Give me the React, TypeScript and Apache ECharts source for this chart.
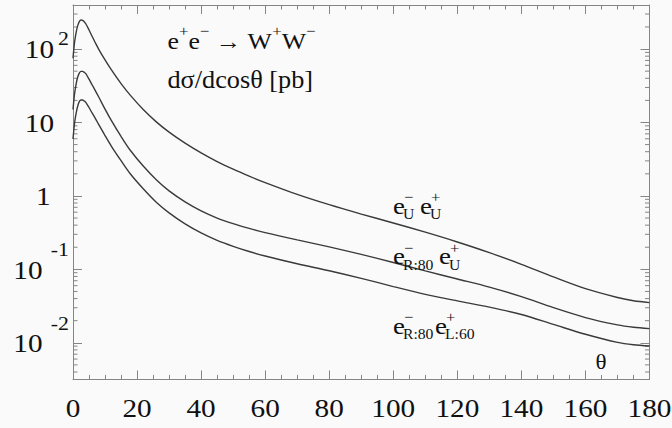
import React, { useEffect, useRef } from 'react';
import * as echarts from 'echarts';

// ---- data ----
const thetaDeg = [0, 0.5, 1, 1.5, 2, 2.5, 3, 3.5, 4, 5, 6, 7, 8, 10, 12, 15, 18, 22, 26, 30, 35, 40, 45, 50, 55, 60, 70, 80, 90, 100, 110, 120, 130, 140, 150, 160, 170, 175, 180];
const sigmaUU = [75, 125, 170, 210, 238, 249, 246, 236, 221, 182, 148, 121, 100, 71.1, 52.0, 33.9, 23.2, 14.9, 10.2, 7.4, 5.24, 3.86, 2.94, 2.31, 1.86, 1.52, 1.05, 0.76, 0.566, 0.428, 0.321, 0.236, 0.169, 0.117, 0.0789, 0.0546, 0.0414, 0.0373, 0.0352];
const sigmaR80U = [15, 24.9, 33.9, 41.9, 47.5, 49.7, 49.6, 48.2, 46.2, 38.9, 32.4, 27.0, 22.4, 15.2, 10.6, 6.46, 4.12, 2.53, 1.66, 1.17, 0.83, 0.625, 0.5, 0.42, 0.362, 0.317, 0.252, 0.2025, 0.1596, 0.1239, 0.0952, 0.0739, 0.0573, 0.0425, 0.0301, 0.02206, 0.0175, 0.01626, 0.0156];
const sigmaR80L60 = [5.96, 9.93, 13.5, 16.9, 19.4, 20.2, 20.2, 19.6, 18.8, 16.0, 13.4, 11.3, 9.44, 6.64, 4.74, 3.02, 1.97, 1.24, 0.82, 0.587, 0.416, 0.313, 0.248, 0.206, 0.175, 0.152, 0.119, 0.0957, 0.0755, 0.0583, 0.0457, 0.0372, 0.0306, 0.0243, 0.0178, 0.01305, 0.01013, 0.0094, 0.00903];

const xTickValues = [0, 20, 40, 60, 80, 100, 120, 140, 160, 180];
const xTickLabels = ['0', '20', '40', '60', '80', '100', '120', '140', '160', '180'];
const yDecadeValues = [100, 10, 1, 0.1, 0.01];
const yDecadeBase = ['10', '10', '1', '10', '10'];
const yDecadeExp = ['2', '', '', '-1', '-2'];
const yMinorMultipliers = [2, 3, 4, 5, 6, 7, 8, 9];
const yMinorDecades = [0.001, 0.01, 0.1, 1, 10, 100];

const titleText = '{b|e}{s|+}{b|e}{s|−}{b| → W}{s|+}{b|W}{s|−}';
const subtitleText = 'dσ/dcosθ [pb]';
const axisTitleX = 'θ';
const labelUU = [['−', 'U'], ['+', 'U']];
const labelR80U = [['−', 'R:80'], ['+', 'U']];
const labelR80L60 = [['−', 'R:80'], ['+', 'L:60']];

const Y_MIN = Math.pow(10, -2.5);
const Y_MAX = Math.pow(10, 2.6);
const FONT = '"Liberation Serif", "Times New Roman", serif';
const INK = '#111111';
const AX = '#858585';
const LINE = '#3a3a3a';
const BG = '#fafafa';

function txt(text: string, x: number, y: number, size: number, align: string, sx = 1.15) {
  return {
    type: 'text', x, y, scaleX: sx, silent: true, z: 10,
    style: { text, fontSize: size, fontFamily: FONT, fill: INK, align, verticalAlign: 'middle' },
  };
}

function eLabel(blocks: string[][], xs: number[], yc: number) {
  const out: any[] = [];
  blocks.forEach((b, i) => {
    const x = xs[i];
    out.push(txt('e', x, yc - 1.8, 24, 'left', 1.12));
    out.push(txt(b[0], x + 11, yc - 10.5, 15, 'left', 1.1));
    out.push(txt(b[1], x + 10, yc + 7, 14.5, 'left', 1.08));
  });
  return out;
}

export default function App() {
  const ref = useRef<HTMLDivElement>(null);
  useEffect(() => {
    document.body.style.margin = '0';
    document.body.style.background = BG;
    const chart = echarts.init(ref.current!, null, { renderer: 'svg' });

    const minorData: number[][] = [];
    yMinorDecades.forEach((d) => yMinorMultipliers.forEach((m) => {
      const v = m * d;
      if (v > Y_MIN && v < Y_MAX) minorData.push([0, v]);
    }));

    const xAxisBase = {
      type: 'value', min: 0, max: 180, interval: 20,
      axisLine: { show: true, onZero: false, lineStyle: { color: AX, width: 1 } },
      axisTick: { show: true, inside: true, length: 9, lineStyle: { color: AX, width: 1 } },
      minorTick: { show: true, splitNumber: 4, length: 4.5, lineStyle: { color: AX, width: 1 } },
      axisLabel: { show: false },
      splitLine: { show: false },
    };
    const yAxisBase = {
      type: 'log', logBase: 10, min: Y_MIN, max: Y_MAX,
      axisLine: { show: true, onZero: false, lineStyle: { color: AX, width: 1 } },
      axisTick: { show: true, inside: true, length: 9, lineStyle: { color: AX, width: 1 } },
      axisLabel: { show: false },
      splitLine: { show: false },
    };
    const mk = (vals: number[]) => thetaDeg.map((t, i) => [t, vals[i]]);
    const lineSeries = (name: string, vals: number[]) => ({
      name, type: 'line', data: mk(vals), showSymbol: false, smooth: 0.3,
      lineStyle: { color: LINE, width: 1.4 }, silent: true, z: 3,
    });

    chart.setOption({
      animation: false,
      backgroundColor: BG,
      grid: { left: 73, right: 22.5, top: 5, bottom: 48.5, containLabel: false },
      xAxis: [
        { ...xAxisBase, position: 'bottom' },
        { ...xAxisBase, position: 'top' },
      ],
      yAxis: [
        { ...yAxisBase, position: 'left' },
        { ...yAxisBase, position: 'right' },
      ],
      series: [
        lineSeries('UU', sigmaUU),
        lineSeries('R80U', sigmaR80U),
        lineSeries('R80L60', sigmaR80L60),
        {
          type: 'custom', silent: true, data: minorData, encode: { x: 0, y: 1 },
          renderItem: (params: any, api: any) => {
            const v = api.value(1);
            const l = api.coord([0, v]);
            const r = api.coord([180, v]);
            return {
              type: 'group', children: [
                { type: 'line', shape: { x1: l[0], y1: l[1], x2: l[0] + 4.5, y2: l[1] }, style: { stroke: AX, lineWidth: 1 } },
                { type: 'line', shape: { x1: r[0] - 4.5, y1: r[1], x2: r[0], y2: r[1] }, style: { stroke: AX, lineWidth: 1 } },
              ],
            };
          },
        },
      ],
    });

    const g: any[] = [];
    xTickValues.forEach((v, i) => {
      const px = chart.convertToPixel({ xAxisIndex: 0 }, v) as number;
      g.push(txt(xTickLabels[i], px, 408.5, 25, 'center', 1.17));
    });
    yDecadeValues.forEach((v, i) => {
      const py = chart.convertToPixel({ yAxisIndex: 0 }, v) as number;
      const base = yDecadeBase[i];
      const exp = yDecadeExp[i];
      if (!exp) {
        g.push(txt(base, base === '1' ? 50.5 : 54, py + 1, 25, 'right', 1.17));
      } else if (exp.charAt(0) === '-') {
        g.push(txt(base, 42.5, py + 1, 25, 'right', 1.17));
        g.push(txt(exp, 69, py - 19.5, 19, 'right', 1.15));
      } else {
        g.push(txt(base, 54, py + 0.5, 25, 'right', 1.17));
        g.push(txt(exp, 69, py - 10.5, 19, 'right', 1.15));
      }
    });
    g.push({
      type: 'text', x: 167.5, y: 41.3, scaleX: 1.12, silent: true, z: 10,
      style: {
        text: titleText, align: 'left', verticalAlign: 'middle',
        rich: {
          b: { fontSize: 23, fontFamily: FONT, fill: INK, lineHeight: 36, verticalAlign: 'middle' },
          s: { fontSize: 15, fontFamily: FONT, fill: INK, lineHeight: 15, verticalAlign: 'top' },
        },
      },
    });
    g.push(txt(subtitleText, 167.5, 79.5, 25, 'left', 1.05));
    g.push(...eLabel(labelUU, [393, 420], 207.5));
    g.push(...eLabel(labelR80U, [393, 439], 258));
    g.push(...eLabel(labelR80L60, [393, 435], 327.5));
    g.push(txt(axisTitleX, 601, 362, 21, 'center', 1.1));

    chart.setOption({ graphic: g });
    return () => chart.dispose();
  }, []);
  return <div ref={ref} style={{ width: 672, height: 428, background: BG }} />;
}
